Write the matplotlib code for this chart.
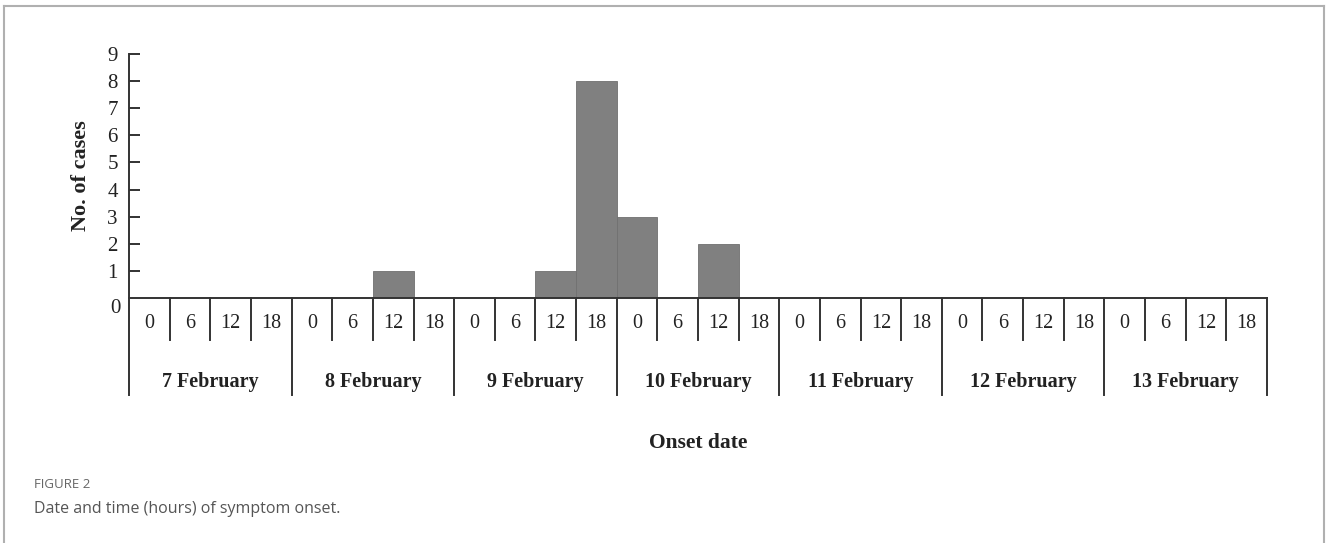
import matplotlib.pyplot as plt
from matplotlib.lines import Line2D
import matplotlib.transforms as mtransforms

# Data
days = ['7 February', '8 February', '9 February', '10 February',
        '11 February', '12 February', '13 February']
hours = ['0', '6', '12', '18']
# cases per 6-hour slot, 28 slots
cases = [0, 0, 0, 0,
         0, 0, 1, 0,
         0, 0, 1, 8,
         3, 0, 2, 0,
         0, 0, 0, 0,
         0, 0, 0, 0,
         0, 0, 0, 0]

W, H = 1328, 543
fig = plt.figure(figsize=(W / 100, H / 100), dpi=100)

# axes placement (pixel based)
x0, x1 = 129, 1267
y_top, y_base = 54, 298
ax = fig.add_axes([x0 / W, 1 - y_base / H, (x1 - x0) / W, (y_base - y_top) / H])

serif = 'Liberation Serif'
n = len(cases)
ax.bar(range(n), cases, width=1.0, align='edge', color='#808080',
       edgecolor='#707070', linewidth=0.6, zorder=2)
ax.set_xlim(0, n)
ax.set_ylim(0, 9)
ax.set_yticks(range(1, 10))
ax.set_yticklabels([str(i) for i in range(1, 10)], fontfamily=serif, fontsize=15)
ax.tick_params(axis='y', direction='in', length=8, width=1.3, pad=8, colors='#222222')
ax.set_xticks([])
for s in ['top', 'right']:
    ax.spines[s].set_visible(False)
for s in ['left', 'bottom']:
    ax.spines[s].set_linewidth(1.4)
    ax.spines[s].set_color('#333333')

ax.text(-0.2, -0.05, '0', transform=ax.transData, ha='right', va='top',
        fontfamily=serif, fontsize=15, color='#222222')
ax.set_ylabel('No. of cases', fontfamily=serif, fontsize=16, fontweight='bold',
              labelpad=12, color='#222222')

# category axis drawn under the baseline
trans = mtransforms.blended_transform_factory(ax.transData, ax.transAxes)
axh = y_base - y_top
short = -(340 - y_base) / axh
long_ = -(395 - y_base) / axh
for i in range(n + 1):
    bottom = long_ if i % 4 == 0 else short
    ax.add_line(Line2D([i, i], [0, bottom], transform=trans, color='#333333',
                       linewidth=1.4, clip_on=False))
for i in range(n):
    ax.text(i + 0.5, -(323 - y_base) / axh, hours[i % 4], transform=trans,
            ha='center', va='center', fontfamily=serif, fontsize=14.5, color='#222222')
for d, name in enumerate(days):
    ax.text(d * 4 + 2, -(382 - y_base) / axh, name, transform=trans,
            ha='center', va='center', fontfamily=serif, fontsize=14.5,
            fontweight='bold', color='#222222')
ax.text(n / 2, -(443 - y_base) / axh, 'Onset date', transform=trans,
        ha='center', va='center', fontfamily=serif, fontsize=15.5,
        fontweight='bold', color='#222222')

# figure frame and caption
fc = '#b0b0b0'
fig.add_artist(Line2D([4 / W, 4 / W], [0, 1 - 6 / H], color=fc, linewidth=1.5))
fig.add_artist(Line2D([1324 / W, 1324 / W], [0, 1 - 6 / H], color=fc, linewidth=1.5))
fig.add_artist(Line2D([4 / W, 1324 / W], [1 - 6 / H, 1 - 6 / H], color=fc, linewidth=1.5))
fig.text(34 / W, 1 - 485 / H, 'FIGURE 2', fontfamily='Open Sans', fontsize=9.5,
         color='#666666', va='center')
fig.text(34 / W, 1 - 509 / H, 'Date and time (hours) of symptom onset.',
         fontfamily='Open Sans', fontsize=11.5, color='#555555', va='center')

fig.savefig('out.png', dpi=100)
